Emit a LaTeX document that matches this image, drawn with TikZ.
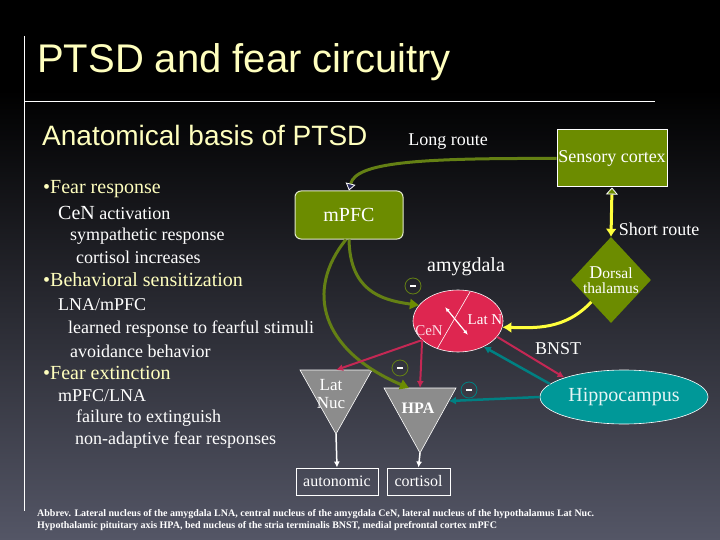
\documentclass[tikz,border=0pt]{standalone}
\usepackage{fontspec}
\setmainfont{Liberation Serif}
\newfontfamily\arialf{Liberation Sans}
\usetikzlibrary{arrows.meta,shapes.geometric}
\newcommand\fsz[1]{\fontsize{#1}{#1}\selectfont}
\definecolor{ttl}{RGB}{255,255,190}
\definecolor{olivebox}{RGB}{108,140,0}
\definecolor{oliveline}{RGB}{100,128,20}
\definecolor{crim}{RGB}{222,38,80}
\definecolor{crimline}{RGB}{196,40,84}
\definecolor{tealbox}{RGB}{0,152,152}
\definecolor{tealline}{RGB}{0,128,130}
\definecolor{grayt}{RGB}{140,140,140}
\definecolor{yel}{RGB}{255,255,60}
\definecolor{bgbot}{RGB}{84,86,102}
\definecolor{navytip}{RGB}{40,40,90}
\tikzset{
  txt/.style={text=white,inner sep=0pt},
  ltxt/.style={txt,anchor=west,font=\fsz{18}},
  hd/.style={text=ttl,inner sep=0pt,anchor=west,font=\fsz{20}},
  minus/.style={circle,draw=#1,line width=0.8pt,minimum size=16pt,inner sep=0pt,text=white},
  whitebox/.style={draw=white,line width=1pt,inner sep=0pt,text=white,font=\fsz{16}},
  oline/.style={draw=oliveline,line width=3pt},
}
\begin{document}
\begin{tikzpicture}[x=1pt,y=-1pt]
\useasboundingbox (0,0) rectangle (720,540);
\fill[black] (0,0) rectangle (720,540);
\shade[top color=black,bottom color=bgbot] (0,90) rectangle (720,540);
% frame lines
\draw[white,line width=0.8pt] (24,36) -- (24,511);
\draw[white,line width=0.8pt] (24,101) -- (655,101);
% titles
\node[anchor=west,inner sep=0pt,text=ttl,font=\arialf\fsz{40}] (title) at (37,62) {PTSD and fear circuitry};
\node[anchor=west,inner sep=0pt,text=ttl,font=\arialf\fsz{28}] (sub) at (42,135) {Anatomical basis of PTSD};
% left text
\node[hd] (t1) at (43,189) {\textbullet Fear response};
\node[ltxt] (t2) at (58,213) {{\fsz{20}CeN} activation};
\node[ltxt] (t3) at (70,236) {sympathetic response};
\node[ltxt] (t4) at (76,257) {cortisol increases};
\node[hd] (t5) at (43,280) {\textbullet Behavioral sensitization};
\node[ltxt] (t6) at (58,305) {LNA/mPFC};
\node[ltxt] (t7) at (68,329) {learned response to fearful stimuli};
\node[ltxt] (t8) at (70,351) {avoidance behavior};
\node[hd] (t9) at (43,373) {\textbullet Fear extinction};
\node[ltxt] (t10) at (58,396) {mPFC/LNA};
\node[ltxt] (t11) at (76,418) {failure to extinguish};
\node[ltxt] (t12) at (75,440) {non-adaptive fear responses};
% nodes
\node[txt,font=\fsz{18}] (long) at (448,142) {Long route};
\node[draw=white,line width=1pt,fill=olivebox,minimum width=110pt,minimum height=57pt,inner sep=0pt,text=white,font=\fsz{18}] (sc) at (612,158.5) {Sensory cortex};
\node[draw=white!80!olivebox,line width=1pt,fill=olivebox,rounded corners=6pt,minimum width=108pt,minimum height=48pt,inner sep=0pt,text=white,font=\fsz{20}] (mpfc) at (349,215) {mPFC};
\node[txt,font=\fsz{18}] (short) at (659,229) {Short route};
\node[diamond,fill=olivebox,minimum width=80pt,minimum height=86pt,inner sep=0pt] (thal) at (611,280) {};
\node[txt,font=\fsz{15.5},align=center] (thaltxt) at (611,280) {{\fsz{18}D}orsal\\[0pt]thalamus};
\node[txt,font=\fsz{20}] (amylab) at (466,267) {amygdala};
\node[ellipse,draw=white,line width=0.6pt,fill=crim,minimum width=90pt,minimum height=62pt,inner sep=0pt] (amy) at (458,321) {};
\draw[white,line width=0.6pt] (470,292) -- (437,349);
\node[txt,text=white!85!crim,font=\fsz{15}] (cen) at (429,331) {CeN};
\node[txt,font=\fsz{15}] (latn) at (485,320) {Lat N};
\draw[white,line width=1.2pt,{Latex[length=5pt,width=4pt]}-{Latex[length=5pt,width=4pt]}] (445,307) -- (468,335);
\node[txt,font=\fsz{18}] (bnst) at (558,349) {BNST};
\node[ellipse,draw=white,line width=0.6pt,fill=tealbox,minimum width=168pt,minimum height=54pt,inner sep=0pt,text=white!90!tealbox,font=\fsz{20}] (hip) at (624,397) {Hippocampus};
% triangles
\draw[white,line width=0.6pt,fill=grayt] (300,370) -- (372,370) -- (336,434) -- cycle;
\coordinate (lnTop) at (336,370);
\coordinate (lnApex) at (336,434);
\node[txt,font=\fsz{17},align=center] (lnuc) at (331,394) {Lat\\[1pt]Nuc};
\draw[white,line width=0.6pt,fill=grayt] (384,388) -- (456,388) -- (420,453) -- cycle;
\coordinate (hpaTop) at (420,388);
\coordinate (hpaTopL) at (409,388);
\coordinate (hpaRight) at (449,401);
\coordinate (hpaApex) at (420,453);
\node[txt,font=\fsz{16}\bfseries] (hpa) at (418,408) {HPA};
\node[whitebox,minimum width=82pt,minimum height=27pt] (auto) at (337,481.5) {autonomic};
\node[whitebox,minimum width=63pt,minimum height=27pt] (cort) at (418.5,481.5) {cortisol};
% connectors
\draw[oline,-{Triangle[length=7pt,width=10pt,color=white,fill=navytip,line width=0.8pt]}] (sc.west) .. controls (420,158) and (356,162) .. (mpfc.north);
\draw[yel,line width=3pt,{Triangle[length=7pt,width=12pt,color=white,fill=olivebox,line width=0.8pt]}-{Latex[length=8pt,width=11pt]}] (sc.south) -- (thal.north);
\draw[yel,line width=3pt,-{Latex[length=9pt,width=11pt]}] (thal.228) .. controls (565,330) and (535,328) .. (amy.-8);
\draw[oline,-{Triangle[length=9pt,width=10pt,fill=olivebox,color=olivebox]}] (mpfc.270) .. controls (350,290) and (380,300) .. (amy.158);
\draw[oline,-{Triangle[length=9pt,width=10pt,fill=olivebox,color=olivebox]}] (mpfc.263) .. controls (305,290) and (320,350) .. (hpaTopL);
\draw[crimline,line width=2pt,-{Latex[length=7pt,width=7pt]}] (amy.208) -- (lnTop);
\draw[crimline,line width=2pt,-{Latex[length=7pt,width=7pt]}] (amy.208) -- (hpaTop);
\draw[crimline,line width=2pt,-{Latex[length=7pt,width=7pt]}] (amy.-22) -- (hip.162);
\draw[tealline,line width=2.5pt,-{Latex[length=7pt,width=8pt]}] (hip.170) -- (amy.-45);
\draw[tealline,line width=2.5pt,-{Latex[length=7pt,width=8pt]}] (hip.west) -- (hpaRight);
\draw[white,line width=1.5pt,-{Latex[length=6pt,width=6pt]}] (lnApex) -- (auto.north);
\draw[white,line width=1.5pt,-{Latex[length=6pt,width=6pt]}] (hpaApex) -- (cort.north);
% minus signs
\node[minus=oliveline] (m1) at (413,286) {\rule{6pt}{2.5pt}};
\node[minus=oliveline] (m2) at (400,368) {\rule{6pt}{2.5pt}};
\node[minus=tealline] (m3) at (469,390) {\rule{6pt}{2.5pt}};
% footnote
\node[anchor=west,inner sep=0pt,text=white,font=\fsz{10}\bfseries] (fn1) at (37,514) {Abbrev. Lateral nucleus of the amygdala LNA, central nucleus of the amygdala CeN, lateral nucleus of the hypothalamus Lat Nuc.};
\node[anchor=west,inner sep=0pt,text=white,font=\fsz{10}\bfseries] (fn2) at (37,526) {Hypothalamic pituitary axis HPA, bed nucleus of the stria terminalis BNST, medial prefrontal cortex mPFC};
\end{tikzpicture}
\end{document}
